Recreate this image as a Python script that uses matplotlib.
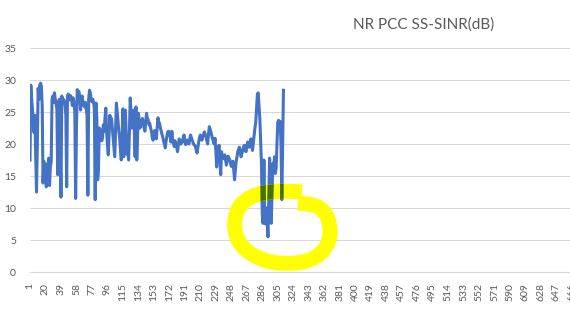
import numpy as np
import matplotlib
matplotlib.use("Agg")
import matplotlib.pyplot as plt
from matplotlib.path import Path
from matplotlib.patches import PathPatch

plt.rcParams['font.family'] = ['Lato', 'DejaVu Sans']

# SS-SINR samples (dB)
sinr = [
    17.5, 29.2, 27.0, 25.5, 23.0, 21.8, 24.5, 18.0, 12.5, 20.0,
    28.7, 27.0, 29.2, 29.5, 29.0, 25.8, 13.9, 17.3, 14.3, 16.4,
    13.3, 16.9, 15.4, 17.8, 13.5, 16.5, 17.2, 26.9, 27.5, 26.5,
    28.0, 27.0, 26.2, 25.5, 15.2, 26.5, 27.0, 20.0, 11.7, 27.5,
    26.5, 27.0, 26.8, 26.0, 24.5, 13.3, 27.5, 27.8, 26.9, 27.6,
    27.5, 27.0, 26.0, 27.2, 26.5, 25.0, 11.5, 22.5, 28.5, 28.0,
    28.2, 27.5, 25.3, 27.0, 27.5, 26.5, 26.0, 25.8, 26.5, 25.6,
    24.5, 12.0, 27.0, 28.4, 28.0, 27.0, 26.6, 27.0, 26.5, 25.5,
    11.3, 26.4, 24.0, 14.4, 16.0, 22.5, 22.3, 21.5, 20.5, 21.0,
    23.0, 22.0, 24.0, 25.6, 22.0, 20.0, 18.3, 21.5, 24.5, 23.0,
    24.0, 22.5, 21.0, 19.5, 18.0, 22.0, 26.4, 25.0, 23.6, 22.0,
    21.0, 19.0, 17.5, 21.0, 25.5, 18.0, 21.5, 25.3, 22.0, 18.4,
    19.0, 17.5, 22.0, 27.2, 25.0, 22.5, 23.5, 25.3, 22.0, 18.0,
    25.8, 17.5, 21.0, 24.8, 23.5, 22.5, 23.0, 23.7, 24.0, 23.2,
    22.5, 22.0, 23.5, 24.8, 24.0, 23.8, 23.0, 23.2, 22.5, 22.0,
    21.0, 20.6, 21.5, 22.1, 21.5, 20.8, 22.5, 24.1, 23.5, 23.2,
    22.5, 22.0, 21.5, 21.0, 20.4, 20.0, 19.4, 20.5, 21.2, 21.9,
    22.0, 21.4, 21.2, 20.3, 22.0, 20.8, 20.2, 19.6, 20.5, 20.0,
    19.5, 18.8, 19.8, 20.8, 20.5, 20.0, 20.5, 20.3, 21.0, 21.4,
    20.5, 19.9, 20.2, 20.6, 20.3, 20.0, 20.8, 21.4, 21.0, 20.6,
    20.2, 19.9, 19.8, 19.6, 19.0, 18.6, 19.5, 20.3, 21.0, 21.4,
    21.0, 20.6, 21.2, 21.5, 21.9, 21.5, 21.1, 20.5, 20.0, 21.5,
    22.7, 22.3, 21.9, 21.3, 20.8, 20.4, 20.0, 20.9, 19.1, 16.4,
    18.3, 19.2, 19.8, 17.5, 15.2, 18.8, 18.2, 17.7, 18.0, 18.3,
    17.5, 16.7, 17.5, 18.1, 17.8, 17.6, 17.0, 16.5, 17.0, 17.3,
    16.0, 14.4, 16.0, 17.3, 18.0, 18.8, 19.2, 19.5, 18.8, 18.0,
    18.5, 19.0, 19.5, 19.8, 19.2, 18.8, 19.5, 20.3, 20.0, 19.5,
    20.2, 20.8, 20.0, 19.0, 20.2, 21.4, 22.5, 23.4, 25.5, 27.7,
    28.0, 26.0, 24.0, 20.5, 17.0, 9.0, 7.6, 17.5, 8.0, 7.5,
    10.0, 8.0, 5.5, 12.0, 17.8, 10.0, 7.6, 12.0, 17.0, 15.8,
    18.0, 15.4, 16.2, 20.0, 23.4, 23.7, 23.4, 23.5, 20.0, 11.3,
    20.0, 28.4,
]
n_categories = 990
tick_step = 19
last_label = 666
y_ticks = [0, 5, 10, 15, 20, 25, 30, 35]
title = "NR PCC SS-SINR(dB)"

W, H = 570, 314
fig = plt.figure(figsize=(W / 100, H / 100), dpi=100)
ax = fig.add_axes([30 / W, 42 / H, (836 - 30) / W, 224 / H])

x = np.arange(1, len(sinr) + 1)
ax.plot(x, sinr, color='#4472C4', lw=2.2, zorder=2, solid_joinstyle='round')

ax.set_xlim(1, n_categories)
ax.set_ylim(0, 35)
ax.set_yticks(y_ticks)
ticks = np.arange(1, last_label + 1, tick_step)
ax.set_xticks(ticks)
ax.set_xticklabels([str(t) for t in ticks], rotation=90)
ax.tick_params(length=0, colors='#595959', labelsize=7.5)
ax.tick_params(axis='y', pad=10)
ax.tick_params(axis='x', pad=8)
ax.grid(axis='y', color='#D9D9D9', lw=0.75)
ax.set_axisbelow(True)
for s in ['top', 'right', 'left']:
    ax.spines[s].set_visible(False)
ax.spines['bottom'].set_color('#D9D9D9')

fig.text(424 / W, 1 - 25 / H, title, ha='center', va='center',
         fontsize=11, color='#595959')

# hand drawn yellow highlight loop (pixel coords, y down)
cl = np.array([
    (302, 192), (285, 191), (268, 192), (254, 195), (243, 202),
    (236, 212), (234, 227), (238, 242), (250, 254), (268, 262),
    (290, 264), (309, 261), (322, 253), (330, 240), (330, 225),
    (326, 213), (316, 205), (298, 203),
], float)
for _ in range(3):  # chaikin smoothing
    q = 0.75 * cl[:-1] + 0.25 * cl[1:]
    r = 0.25 * cl[:-1] + 0.75 * cl[1:]
    cl = np.vstack([cl[:1], np.column_stack([q, r]).reshape(-1, 2), cl[-1:]])
d = np.gradient(cl, axis=0)
d /= np.linalg.norm(d, axis=1, keepdims=True)
nrm = np.column_stack([-d[:, 1], d[:, 0]])
half = 7.5
poly = np.vstack([cl + nrm * half, (cl - nrm * half)[::-1], (cl + nrm * half)[:1]])
poly = np.column_stack([poly[:, 0] / W, 1 - poly[:, 1] / H])
patch = PathPatch(Path(poly, closed=True), transform=fig.transFigure,
                  facecolor='#FFFF00', edgecolor='none', zorder=3, clip_on=False)
ax.add_patch(patch)

# line seen through the highlighter
over, = ax.plot(x, sinr, color='#447200', lw=2.2, zorder=4, solid_joinstyle='round')
over.set_clip_path(patch)

fig.savefig('out.png', dpi=100)
